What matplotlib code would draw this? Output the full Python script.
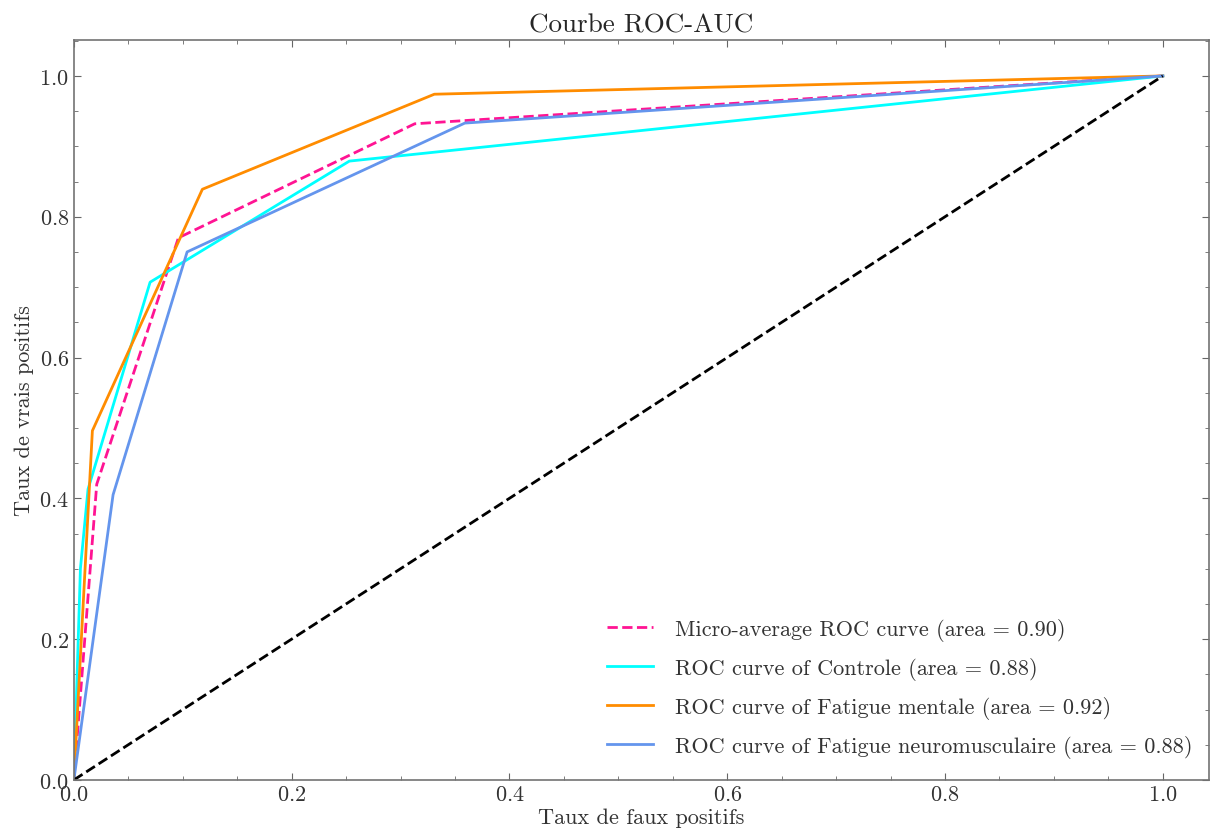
import matplotlib
matplotlib.use("Agg")
import matplotlib.pyplot as plt
import numpy as np

plt.rcParams['font.family'] = ['cmr10', 'DejaVu Serif']
plt.rcParams['mathtext.fontset'] = 'cm'
plt.rcParams['axes.formatter.use_mathtext'] = True
plt.rcParams['axes.unicode_minus'] = False

# ROC points
fpr_micro = [0.0, 0.021, 0.096, 0.313, 1.0]
tpr_micro = [0.0, 0.42, 0.770, 0.932, 1.0]

fpr_ctrl = [0.0, 0.006, 0.013, 0.070, 0.253, 1.0]
tpr_ctrl = [0.0, 0.30, 0.413, 0.707, 0.879, 1.0]

fpr_ment = [0.0, 0.017, 0.118, 0.331, 1.0]
tpr_ment = [0.0, 0.496, 0.839, 0.974, 1.0]

fpr_neuro = [0.0, 0.036, 0.104, 0.359, 1.0]
tpr_neuro = [0.0, 0.405, 0.750, 0.933, 1.0]

labels = ['Micro-average ROC curve (area = 0.90)',
          'ROC curve of Controle (area = 0.88)',
          'ROC curve of Fatigue mentale (area = 0.92)',
          'ROC curve of Fatigue neuromusculaire (area = 0.88)']

fig, ax = plt.subplots(figsize=(12.11, 8.37), dpi=100)
fig.subplots_adjust(left=0.061, right=0.998, top=0.951, bottom=0.067)

ax.plot(fpr_micro, tpr_micro, color='deeppink', linestyle='--', lw=2, label=labels[0])
ax.plot(fpr_ctrl, tpr_ctrl, color='aqua', lw=2, label=labels[1])
ax.plot(fpr_ment, tpr_ment, color='darkorange', lw=2, label=labels[2])
ax.plot(fpr_neuro, tpr_neuro, color='cornflowerblue', lw=2, label=labels[3])
ax.plot([0, 1], [0, 1], 'k--', lw=2)

ax.set_xlim(0, 1.042)
ax.set_ylim(0, 1.051)
ax.set_xticks(np.arange(0, 1.01, 0.2))
ax.set_yticks(np.arange(0, 1.01, 0.2))
ax.minorticks_on()
ax.tick_params(which='both', direction='in', top=True, right=True, colors='0.4',
               labelcolor='0.2', labelsize=16)
ax.tick_params(which='major', length=5)
ax.tick_params(which='minor', length=3)
for s in ax.spines.values():
    s.set_color('0.45')
    s.set_linewidth(1.2)

ax.set_xlabel('Taux de faux positifs', fontsize=16, color='0.2', labelpad=2)
ax.set_ylabel('Taux de vrais positifs', fontsize=16, color='0.2', labelpad=4)
ax.set_title('Courbe ROC-AUC', fontsize=19.5, color='0.15')
leg = ax.legend(loc='lower right', frameon=False, fontsize=16, handlelength=2.1,
                handletextpad=0.95, labelspacing=0.72, borderaxespad=0.6,
                bbox_to_anchor=(1.005, 0.0))
for t in leg.get_texts():
    t.set_color('0.2')

fig.savefig('out.png', dpi=100)
